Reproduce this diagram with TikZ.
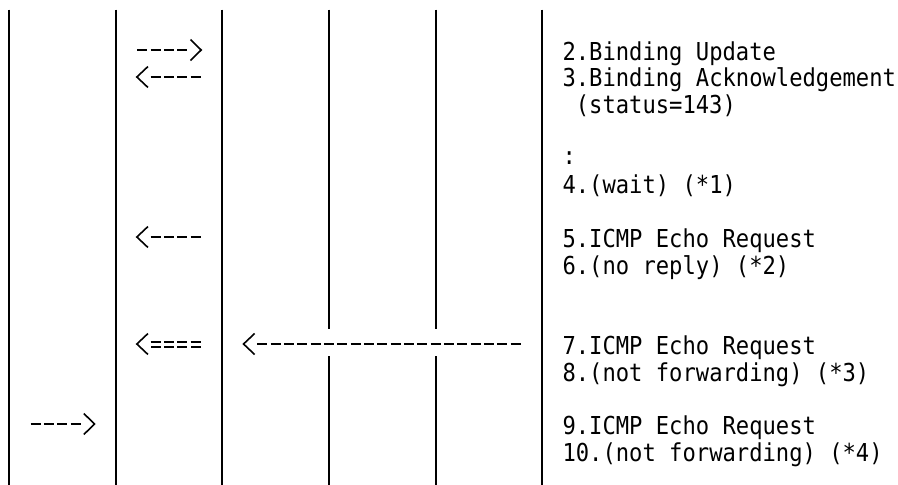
\documentclass[tikz,border=0pt]{standalone}
\usepackage{fontspec}
\newfontfamily\gfont{DejaVu Sans Mono}[FakeStretch=0.897]
\newcommand\rarrow[3]{%
  \coordinate (#1-s) at ({#2+1.5},{#3});
  \coordinate (#1-e) at ({#2+4*13.3333-1.8333},{#3});
  \draw[dashline] (#1-s) -- (#1-e);
  \draw[tip] ({#2+4*13.3333+1.5},{#3-10.5}) -- ({#2+5*13.3333-1.2},{#3}) -- ({#2+4*13.3333+1.5},{#3+10.5});
}
\newcommand\larrow[6]{%
  \draw[tip] ({#2+12.3},{#3-10.5}) -- ({#2+1.2},{#3}) -- ({#2+12.3},{#3+10.5});
  \coordinate (#1-s) at ({#2+13.3333+1.5},{#6});
  \coordinate (#1-e) at ({#2+13.3333*(#4+1)-1.8333},{#6});
  \draw[dashline,#5] (#1-s) -- (#1-e);
}
\begin{document}
\begin{tikzpicture}[x=1pt,y=-1pt,
  lifeline/.style={line width=2.8pt},
  dashline/.style={line width=2pt,dash pattern=on 10pt off 3.3333pt},
  dbl/.style={double,double distance=3pt},
  tip/.style={line width=1.6pt,miter limit=10},
  txt/.style={inner sep=0pt,anchor=base west,font=\gfont\fontsize{24.7}{26.75}\selectfont}]
\useasboundingbox[fill=white] (0,0) rectangle (898,485);
% lifelines
\foreach \n/\x in {A/9,B/116,C/222,F/542}{
  \coordinate (\n-top) at (\x,9.5);
  \coordinate (\n-bot) at (\x,485);
  \draw[lifeline] (\n-top) -- (\n-bot);
}
\foreach \n/\x in {D/329,E/436}{
  \coordinate (\n-top) at (\x,9.5);
  \coordinate (\n-g1) at (\x,329.25);
  \coordinate (\n-g2) at (\x,356);
  \coordinate (\n-bot) at (\x,485);
  \draw[lifeline] (\n-top) -- (\n-g1);
  \draw[lifeline] (\n-g2) -- (\n-bot);
}
% arrows
\rarrow{m2}{135.6667}{50}
\larrow{m3}{135.6667}{77}{4}{}{77}
\larrow{m5}{135.6667}{237}{4}{}{237}
\larrow{m7a}{135.6667}{344}{4}{dbl}{344.5}
\larrow{m7b}{242.3333}{344}{20}{}{344}
\rarrow{m9}{29}{424}
% texts
\node[txt] (t2) at (562.3333,60) {2.Binding Update};
\node[txt] (t3) at (562.3333,86.75) {3.Binding Acknowledgement};
\node[txt] (t3b) at (575.6667,113.5) {(status=143)};
\node[txt] (tc) at (562.3333,164) {:};
\node[txt] (t4) at (562.3333,193.75) {4.(wait) (*1)};
\node[txt] (t5) at (562.3333,247.25) {5.ICMP Echo Request};
\node[txt] (t6) at (562.3333,274) {6.(no reply) (*2)};
\node[txt] (t7) at (562.3333,354.25) {7.ICMP Echo Request};
\node[txt] (t8) at (562.3333,381) {8.(not forwarding) (*3)};
\node[txt] (t9) at (562.3333,434.5) {9.ICMP Echo Request};
\node[txt] (t10) at (562.3333,461.25) {10.(not forwarding) (*4)};
\end{tikzpicture}
\end{document}
